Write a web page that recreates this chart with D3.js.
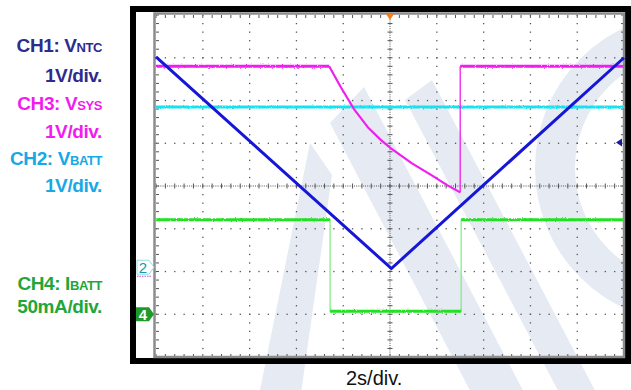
<!DOCTYPE html>
<html>
<head>
<meta charset="utf-8">
<script src="https://cdn.jsdelivr.net/npm/d3@7"></script>
<style>
  html, body { margin: 0; padding: 0; background: #fff; }
  svg { display: block; }
  text { font-family: "Liberation Sans", Arial, sans-serif; }
</style>
</head>
<body>
<svg id="scope" width="631" height="390"></svg>
<script>
// Trace data in screen divisions: time axis 0..10 div (2 s/div), amplitude -4..4 div.
const ntcTime = [0, 5.03, 10];
const ntcDiv  = [3.02, -1.93, 3.0];

const sysTime = [0, 3.70, 3.95, 4.23, 4.53, 4.79, 5.02, 5.47, 5.92, 6.22, 6.50, 6.50, 10];
const sysDiv  = [2.80, 2.80, 2.31, 1.80, 1.37, 1.09, 0.88, 0.53, 0.23, 0.02, -0.15, 2.80, 2.80];

const battTime = [0, 10];
const battDiv  = [1.85, 1.85];

const ibattTime = [0, 3.72, 3.72, 6.52, 6.52, 10];
const ibattDiv  = [-0.79, -0.79, -2.93, -2.93, -0.79, -0.79];

// Channel captions
const captionLines = [
  { main: "CH1: V", sub: "NTC", color: "#2e2b8f", y: 52 },
  { main: "1V/div.", sub: "", color: "#2e2b8f", y: 82 },
  { main: "CH3: V", sub: "SYS", color: "#f21cf0", y: 110 },
  { main: "1V/div.", sub: "", color: "#f21cf0", y: 138 },
  { main: "CH2: V", sub: "BATT", color: "#18a8e6", y: 165 },
  { main: "1V/div.", sub: "", color: "#18a8e6", y: 192 },
  { main: "CH4: I", sub: "BATT", color: "#23a639", y: 290 },
  { main: "50mA/div.", sub: "", color: "#23a639", y: 313 }
];
const timebaseLabel = "2s/div.";

const svg = d3.select("#scope");

const x = d3.scaleLinear().domain([0, 10]).range([156, 624]);
const y = d3.scaleLinear().domain([-4, 4]).range([357, 15]);

// Noise texture for the acquired traces
const defs = svg.append("defs");
const f = defs.append("filter").attr("id", "jitter")
  .attr("filterUnits", "userSpaceOnUse")
  .attr("x", 0).attr("y", 0).attr("width", 631).attr("height", 390);
f.append("feTurbulence").attr("type", "fractalNoise").attr("baseFrequency", "0.9 0.6")
  .attr("numOctaves", 2).attr("seed", 3).attr("result", "n");
f.append("feDisplacementMap").attr("in", "SourceGraphic").attr("in2", "n")
  .attr("scale", 2.4).attr("xChannelSelector", "R").attr("yChannelSelector", "G");

// Light background emblem
const wmColor = "#e5eaf3";
const wm = svg.append("g").attr("fill", wmColor);
wm.append("circle").attr("cx", 690).attr("cy", 168).attr("r", 135)
  .attr("fill", "none").attr("stroke", wmColor).attr("stroke-width", 40);
wm.append("path").attr("d", "M330,123 L364,87 L528,400 L475,400 Z");
wm.append("path").attr("d", "M310,143 L332,175 L300,400 L258,400 Z");
wm.append("path").attr("d", "M405,100 L432,80 L600,400 L563,400 Z");

// Oscilloscope frame
svg.append("rect").attr("x", 133).attr("y", 9).attr("width", 495).attr("height", 352)
  .attr("fill", "none").attr("stroke", "#000").attr("stroke-width", 6);

// Graticule
const grid = svg.append("g");
const majorX = d3.range(1, 10);
const majorY = d3.range(-3, 4);
const minorX = d3.range(0, 10.001, 0.2);
const minorY = d3.range(-4, 4.001, 0.2);

// dotted major lines
majorX.filter(d => d !== 5).forEach(d => {
  grid.selectAll(null).data(minorY).join("rect")
    .attr("x", x(d) - 0.6).attr("y", v => y(v) - 0.6)
    .attr("width", 1.3).attr("height", 1.3).attr("fill", "#555");
});
majorY.filter(d => d !== 0).forEach(d => {
  grid.selectAll(null).data(minorX).join("rect")
    .attr("x", v => x(v) - 0.6).attr("y", y(d) - 0.6)
    .attr("width", 1.3).attr("height", 1.3).attr("fill", "#555");
});

// centre cross with fine ticks
grid.append("line").attr("x1", x(0)).attr("x2", x(10)).attr("y1", y(0)).attr("y2", y(0))
  .attr("stroke", "#555").attr("stroke-width", 1).attr("stroke-dasharray", "1,1.2");
grid.append("line").attr("x1", x(5)).attr("x2", x(5)).attr("y1", y(-4)).attr("y2", y(4))
  .attr("stroke", "#555").attr("stroke-width", 1).attr("stroke-dasharray", "1,1.2");
grid.selectAll(null).data(minorX).join("line")
  .attr("x1", d => x(d)).attr("x2", d => x(d))
  .attr("y1", y(0) - 2.5).attr("y2", y(0) + 2.5)
  .attr("stroke", "#555").attr("stroke-width", 1);
grid.selectAll(null).data(minorY).join("line")
  .attr("y1", d => y(d)).attr("y2", d => y(d))
  .attr("x1", x(5) - 2.5).attr("x2", x(5) + 2.5)
  .attr("stroke", "#555").attr("stroke-width", 1);

// border ticks
grid.selectAll(null).data(minorX).join("line")
  .attr("x1", d => x(d)).attr("x2", d => x(d))
  .attr("y1", y(4)).attr("y2", y(4) + 3)
  .attr("stroke", "#555").attr("stroke-width", 1);
grid.selectAll(null).data(minorX).join("line")
  .attr("x1", d => x(d)).attr("x2", d => x(d))
  .attr("y1", y(-4)).attr("y2", y(-4) - 3)
  .attr("stroke", "#555").attr("stroke-width", 1);
grid.selectAll(null).data(minorY).join("line")
  .attr("y1", d => y(d)).attr("y2", d => y(d))
  .attr("x1", x(0)).attr("x2", x(0) + 3)
  .attr("stroke", "#555").attr("stroke-width", 1);
grid.selectAll(null).data(minorY).join("line")
  .attr("y1", d => y(d)).attr("y2", d => y(d))
  .attr("x1", x(10)).attr("x2", x(10) - 3)
  .attr("stroke", "#555").attr("stroke-width", 1);

// graticule border
grid.append("rect").attr("x", x(0) - 1.5).attr("y", y(4) - 1.5)
  .attr("width", x(10) - x(0) + 1.5).attr("height", y(-4) - y(4) + 1.5)
  .attr("fill", "none").attr("stroke", "#8c8c8c").attr("stroke-width", 2.5);

// Traces
const line = d3.line().x(d => x(d[0])).y(d => y(d[1]));
const zip = (t, v) => t.map((d, i) => [d, v[i]]);
const traces = svg.append("g");

traces.append("path").datum(zip(battTime, battDiv)).attr("d", line)
  .attr("fill", "none").attr("stroke", "#14e3ef").attr("stroke-width", 3)
  .attr("filter", "url(#jitter)");

// IBATT: level segments plus thin edges
const ib = zip(ibattTime, ibattDiv);
traces.append("path").datum(ib).attr("d", line)
  .attr("fill", "none").attr("stroke", "#7deb7d").attr("stroke-width", 1.2);
[[ib[0], ib[1]], [ib[2], ib[3]], [ib[4], ib[5]]].forEach(seg => {
  traces.append("path").datum(seg).attr("d", line)
    .attr("fill", "none").attr("stroke", "#22e022").attr("stroke-width", 3)
    .attr("filter", "url(#jitter)");
});

const sy = zip(sysTime, sysDiv);
traces.append("path").datum(sy.slice(1, 11)).attr("d", line)
  .attr("fill", "none").attr("stroke", "#f01ef0").attr("stroke-width", 2.2)
  .attr("stroke-linejoin", "round");
traces.append("path").datum(sy.slice(0, 2)).attr("d", line)
  .attr("fill", "none").attr("stroke", "#f01ef0").attr("stroke-width", 3)
  .attr("filter", "url(#jitter)");
traces.append("path").datum(sy.slice(10, 12)).attr("d", line)
  .attr("fill", "none").attr("stroke", "#f01ef0").attr("stroke-width", 1.3);
traces.append("path").datum(sy.slice(11)).attr("d", line)
  .attr("fill", "none").attr("stroke", "#f01ef0").attr("stroke-width", 3)
  .attr("filter", "url(#jitter)");

traces.append("path").datum(zip(ntcTime, ntcDiv)).attr("d", line)
  .attr("fill", "none").attr("stroke", "#1616d8").attr("stroke-width", 3)
  .attr("stroke-linejoin", "miter");

// Trigger position marker (top) and trigger level marker (right)
svg.append("path")
  .attr("d", `M${x(5) - 4},${y(4) - 1} L${x(5) + 4},${y(4) - 1} L${x(5)},${y(4) + 5} Z`)
  .attr("fill", "#f08020");
svg.append("path")
  .attr("d", `M${x(10) - 8},${y(1.02)} L${x(10) - 2},${y(1.02) - 4} L${x(10) - 2},${y(1.02) + 4} Z`)
  .attr("fill", "#1a1aa0");

// Channel ground markers
const m2 = y(-1.9);
svg.append("path")
  .attr("d", `M137,${m2 - 7} L149,${m2 - 7} L154,${m2} L149,${m2 + 7} L137,${m2 + 7} Z`)
  .attr("fill", "#fff").attr("stroke", "#8fe0e4").attr("stroke-width", 1);
svg.append("text").attr("x", 143).attr("y", m2 + 5.5).attr("text-anchor", "middle")
  .attr("font-size", 15).attr("fill", "#1a9aa6").text("2");
svg.append("line").attr("x1", 137).attr("x2", 151).attr("y1", m2 + 9).attr("y2", m2 + 9)
  .attr("stroke", "#d040d0").attr("stroke-width", 1).attr("stroke-dasharray", "1.5,1");

const m4 = y(-3);
svg.append("path")
  .attr("d", `M136,${m4 - 7} L149,${m4 - 7} L154,${m4} L149,${m4 + 7} L136,${m4 + 7} Z`)
  .attr("fill", "#1e9a2a");
svg.append("text").attr("x", 143).attr("y", m4 + 5.5).attr("text-anchor", "middle")
  .attr("font-size", 15).attr("font-weight", "bold").attr("fill", "#fff").text("4");

// Captions
const cap = svg.append("g").attr("font-weight", "bold").attr("text-anchor", "end");
captionLines.forEach(c => {
  const t = cap.append("text").attr("x", 102).attr("y", c.y).attr("fill", c.color)
    .attr("letter-spacing", -0.4);
  t.append("tspan").attr("font-size", 19).text(c.main);
  if (c.sub) t.append("tspan").attr("font-size", 13).text(c.sub);
});

svg.append("text").attr("x", 346).attr("y", 385).attr("font-size", 20)
  .attr("fill", "#111").text(timebaseLabel);
</script>
</body>
</html>
